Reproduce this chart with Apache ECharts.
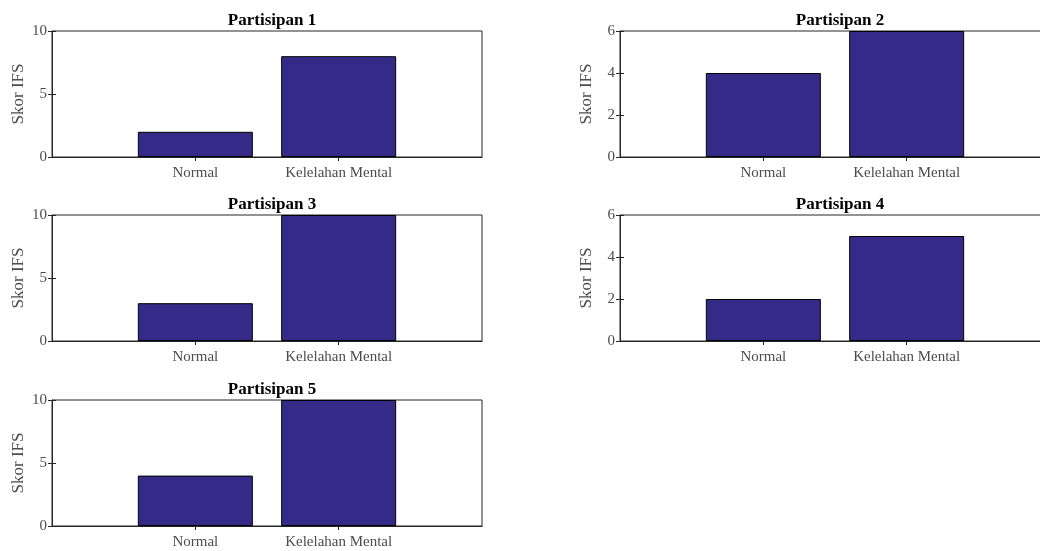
<!DOCTYPE html>
<html>
<head>
<meta charset="utf-8">
<script src="https://cdn.jsdelivr.net/npm/echarts@6/dist/echarts.min.js"></script>
<style>
  html, body { margin: 0; padding: 0; background: #fff; }
  #chart { width: 1040px; height: 551px; }
</style>
</head>
<body>
<div id="chart"></div>
<script>
  // data
  const participants = ['Partisipan 1', 'Partisipan 2', 'Partisipan 3', 'Partisipan 4', 'Partisipan 5']
  const categories = ['Normal', 'Kelelahan Mental']
  const normalScores = [2, 4, 3, 2, 4]
  const fatigueScores = [8, 6, 10, 5, 10]
  const yMax = [10, 6, 10, 6, 10]
  const yStep = [5, 2, 5, 2, 5]

  const barColor = '#352a87'
  const axisColor = '#262626'
  const labelColor = '#4d4d4d'
  const font = '"Liberation Serif", "Times New Roman", serif'

  // subplot positions (px)
  const cols = [52, 620]
  const rows = [31, 215, 400]
  const plotW = 430
  const plotH = 126

  const grid = []
  const title = []
  const xAxis = []
  const yAxis = []
  const series = []

  participants.forEach((name, i) => {
    const left = cols[i % 2]
    const top = rows[Math.floor(i / 2)]
    grid.push({
      left: left, top: top, width: plotW, height: plotH,
      outerBoundsMode: 'none',
      show: true, borderColor: axisColor, borderWidth: 1, backgroundColor: '#fff'
    })
    title.push({
      text: name,
      left: left + plotW / 2,
      top: top - 24,
      textAlign: 'center',
      textStyle: { fontFamily: font, fontSize: 17, fontWeight: 'bold', color: '#000' }
    })
    // bottom x axis with labels
    xAxis.push({
      type: 'value', gridIndex: i, min: 0, max: 3, interval: 1,
      axisLine: { show: true, lineStyle: { color: axisColor } },
      axisTick: { show: true, inside: true, length: 4, customValues: [1, 2], lineStyle: { color: axisColor } },
      splitLine: { show: false },
      axisLabel: {
        margin: 9, fontFamily: font, fontSize: 15, color: labelColor,
        formatter: v => categories[v - 1] || ''
      }
    })
    // top x axis for the box ticks
    xAxis.push({
      type: 'value', gridIndex: i, position: 'top', min: 0, max: 3, interval: 1,
      axisLine: { show: false },
      axisTick: { show: true, inside: true, length: 4, customValues: [1, 2], lineStyle: { color: axisColor } },
      splitLine: { show: false },
      axisLabel: { show: false }
    })
    yAxis.push({
      type: 'value', gridIndex: i, min: 0, max: yMax[i], interval: yStep[i],
      name: 'Skor IFS', nameLocation: 'middle', nameGap: 25,
      nameTextStyle: { fontFamily: font, fontSize: 17, color: labelColor },
      axisLine: { show: true, lineStyle: { color: axisColor } },
      axisTick: { show: true, inside: true, length: 4, lineStyle: { color: axisColor } },
      splitLine: { show: false },
      axisLabel: { margin: 5, fontFamily: font, fontSize: 15, color: labelColor }
    })
    yAxis.push({
      type: 'value', gridIndex: i, position: 'right', min: 0, max: yMax[i], interval: yStep[i],
      axisLine: { show: false },
      axisTick: { show: true, inside: true, length: 4, lineStyle: { color: axisColor } },
      splitLine: { show: false },
      axisLabel: { show: false }
    })
    series.push({
      type: 'bar',
      xAxisIndex: i * 2,
      yAxisIndex: i * 2,
      barWidth: 115,
      itemStyle: { color: barColor, borderColor: '#000', borderWidth: 1 },
      data: [[1, normalScores[i]], [2, fatigueScores[i]]]
    })
  })

  const chart = echarts.init(document.getElementById('chart'))
  chart.setOption({
    animation: false,
    backgroundColor: '#fff',
    title: title,
    grid: grid,
    xAxis: xAxis,
    yAxis: yAxis,
    series: series
  })
</script>
</body>
</html>
